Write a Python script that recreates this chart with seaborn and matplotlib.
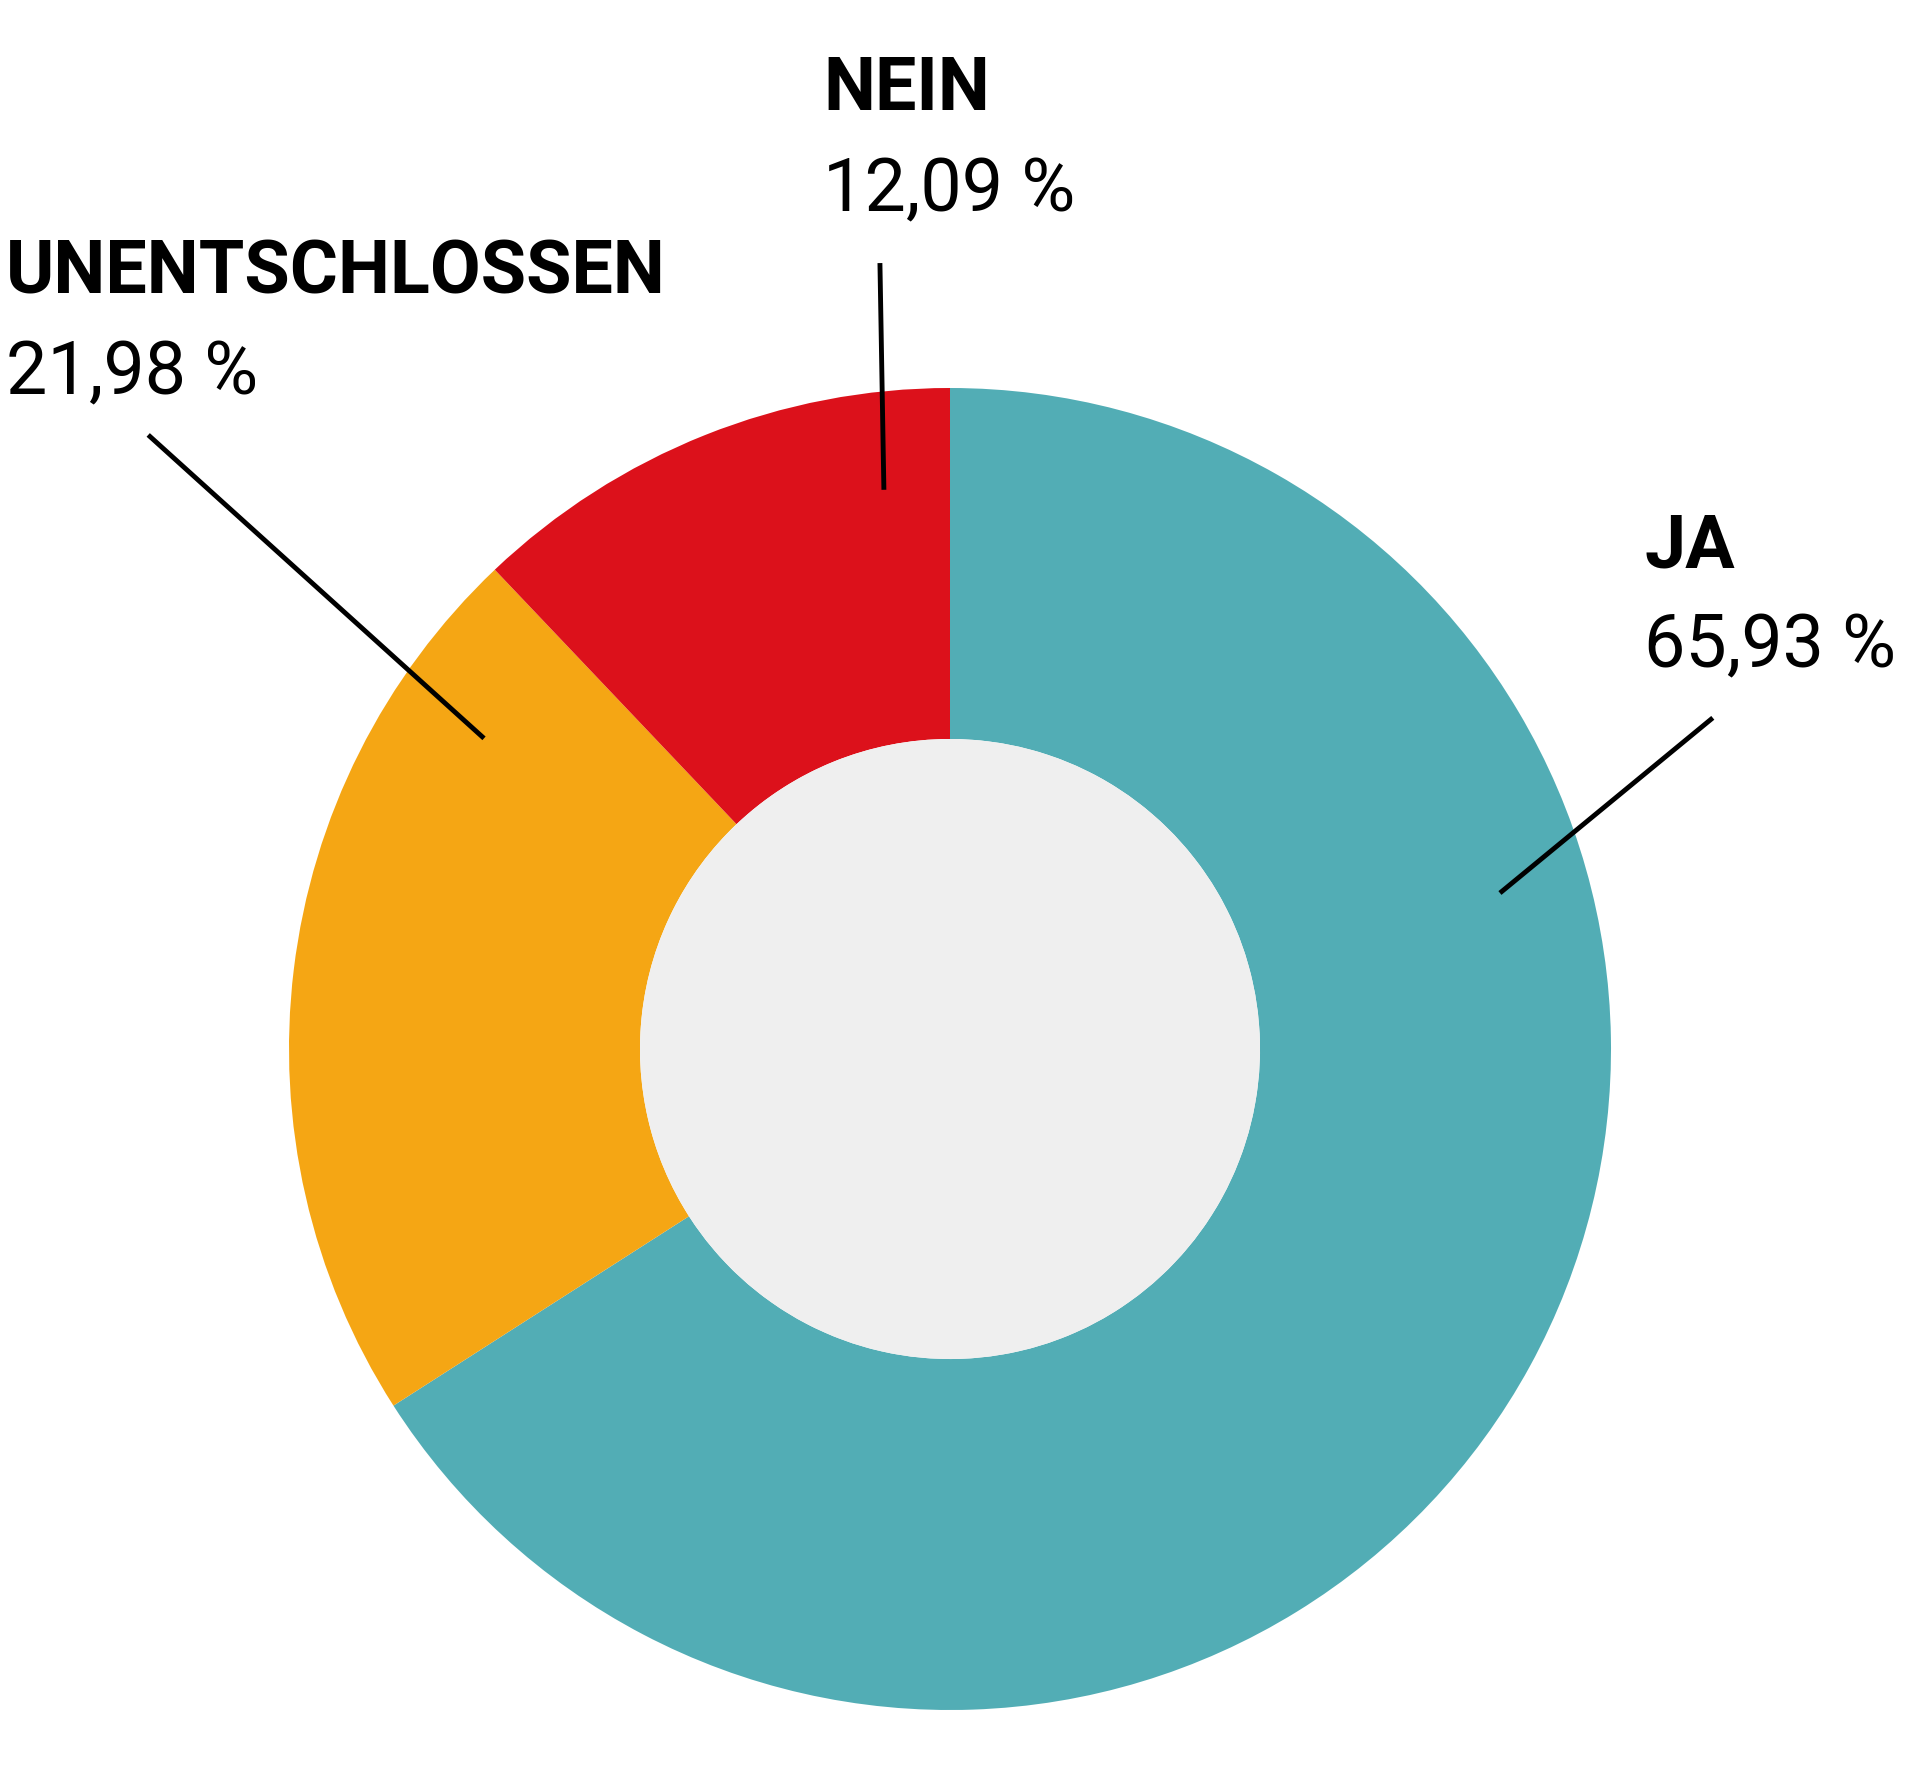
import matplotlib
matplotlib.use("Agg")
import matplotlib.pyplot as plt
import seaborn as sns

# data
labels = ["JA", "UNENTSCHLOSSEN", "NEIN"]
shares = [65.93, 21.98, 12.09]
share_text = ["65,93 %", "21,98 %", "12,09 %"]
colors = ["#52ADB5", "#F5A614", "#DC111B"]

sns.set_theme(style="white")
plt.rcParams['font.family'] = ['Roboto', 'DejaVu Sans']

W, H = 1920, 1777
cx, cy, R = 950, 1049, 661
fig = plt.figure(figsize=(W / 100, H / 100), dpi=100)
ax = fig.add_axes([(cx - R) / W, (H - cy - R) / H, 2 * R / W, 2 * R / H])

ax.pie(shares, colors=colors, startangle=90, counterclock=False,
       radius=1.0, wedgeprops=dict(width=0.531, linewidth=0))
ax.add_patch(plt.Circle((0, 0), 0.469, fc="#EFEFEF", ec="none"))
ax.set_xlim(-1, 1)
ax.set_ylim(-1, 1)
ax.set_aspect("equal")
ax.axis("off")

# leader lines (outer end, inner end) in data units
leaders = {
    "JA": ((1.154, 0.501), (0.832, 0.236)),
    "UNENTSCHLOSSEN": ((-1.213, 0.929), (-0.705, 0.470)),
    "NEIN": ((-0.106, 1.189), (-0.100, 0.846)),
}
for name, (p0, p1) in leaders.items():
    ax.plot([p0[0], p1[0]], [p0[1], p1[1]], color="black", lw=3.5,
            solid_capstyle="butt", clip_on=False)

# label positions: left x, baseline of name, baseline of value (pixels)
label_pos = {
    "JA": (1644, 567, 667),
    "UNENTSCHLOSSEN": (6, 294, 394),
    "NEIN": (823, 110, 211),
}
for name, val in zip(labels, share_text):
    x, yb1, yb2 = label_pos[name]
    fig.text(x / W, 1 - yb1 / H, name, fontsize=53, fontweight="bold",
             va="baseline", ha="left", color="black")
    fig.text(x / W, 1 - yb2 / H, val, fontsize=53,
             va="baseline", ha="left", color="black")

fig.savefig("out.png", dpi=100, facecolor="white")
